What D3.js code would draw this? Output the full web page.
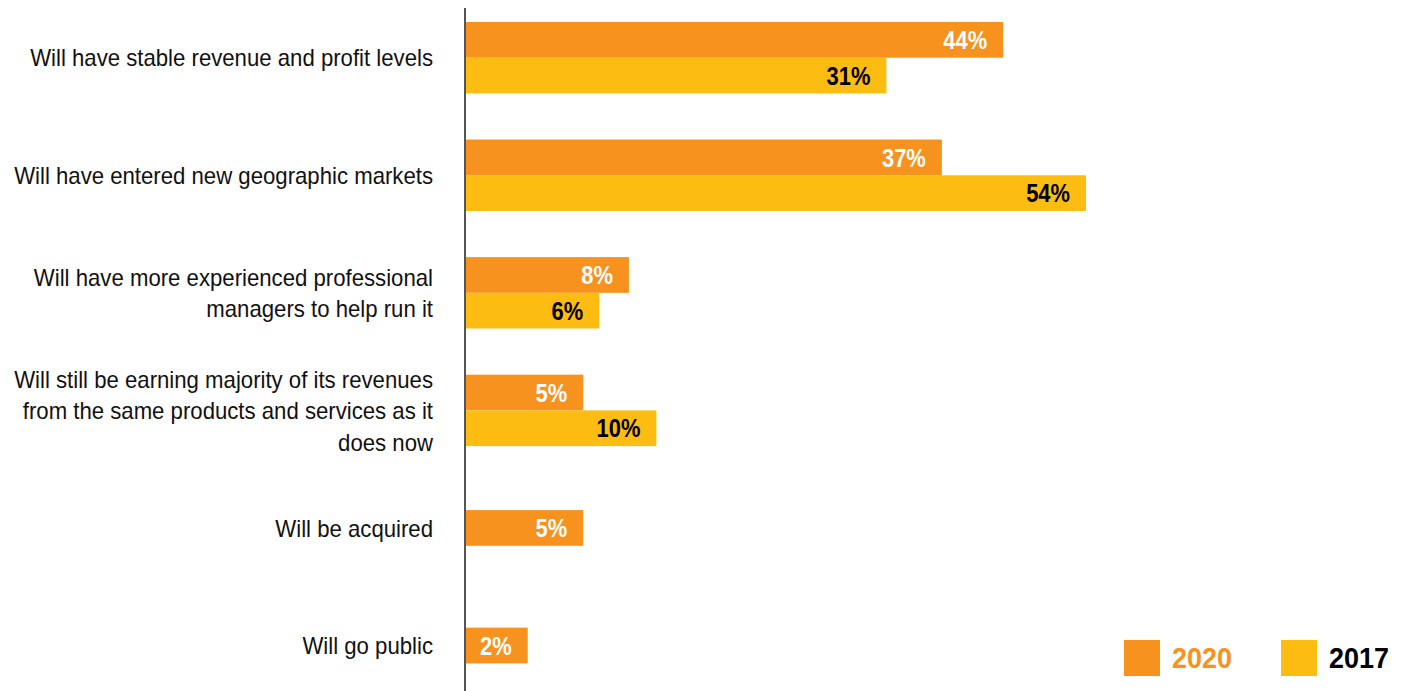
<!DOCTYPE html>
<html>
<head>
<meta charset="utf-8">
<script src="https://cdn.jsdelivr.net/npm/d3@7"></script>
<style>
  body { margin: 0; background: #fff; }
  svg { display: block; }
  text { font-family: "Liberation Sans", Arial, Helvetica, sans-serif; }
</style>
</head>
<body>
<svg id="chart" width="1410" height="691"></svg>
<script>
const categories = [
  "Will have stable revenue and profit levels",
  "Will have entered new geographic markets",
  "Will have more experienced professional\nmanagers to help run it",
  "Will still be earning majority of its revenues\nfrom the same products and services as it\ndoes now",
  "Will be acquired",
  "Will go public"
];
const values2020 = [44, 37, 8, 5, 5, 2];
const values2017 = [31, 54, 6, 10, null, null];
const seriesNames = ["2020", "2017"];

const ORANGE = "#F7921E";
const YELLOW = "#FDBC12";
const BAR_HEIGHT = 35.7;
const BAR_X = 466;

const svg = d3.select("#chart");

const y = d3.scalePoint()
  .domain(categories)
  .range([57.7, 645.5]);

// bar lengths in the original follow a compressed (non-linear) scale
const x = d3.scalePow()
  .exponent(0.7)
  .domain([0, 54])
  .range([BAR_X, BAR_X + 620]);

const bars = [];
categories.forEach((c, i) => {
  const cy = y(c);
  if (values2017[i] != null) {
    bars.push({ series: "2020", value: values2020[i], top: cy - BAR_HEIGHT });
    bars.push({ series: "2017", value: values2017[i], top: cy });
  } else {
    bars.push({ series: "2020", value: values2020[i], top: cy - BAR_HEIGHT / 2 });
  }
});

svg.selectAll("rect.bar")
  .data(bars)
  .enter()
  .append("rect")
  .attr("class", "bar")
  .attr("x", BAR_X)
  .attr("y", d => d.top)
  .attr("width", d => x(d.value) - BAR_X)
  .attr("height", BAR_HEIGHT)
  .attr("fill", d => d.series === "2020" ? ORANGE : YELLOW);

// condensed look: squeeze text horizontally
svg.selectAll("g.value")
  .data(bars)
  .enter()
  .append("g")
  .attr("class", "value")
  .attr("transform", d => `translate(${x(d.value) - 16}, ${d.top + BAR_HEIGHT / 2}) scale(0.86, 1)`)
  .append("text")
  .attr("dy", "0.36em")
  .attr("text-anchor", "end")
  .attr("font-size", "25.5px")
  .attr("font-weight", "bold")
  .attr("fill", d => d.series === "2020" ? "#fff" : "#000")
  .text(d => `${d.value}%`);

const LINE_H = 31.5;
svg.selectAll("g.cat")
  .data(categories)
  .enter()
  .append("g")
  .attr("class", "cat")
  .attr("transform", d => `translate(433, ${y(d)}) scale(0.924, 1)`)
  .append("text")
  .attr("text-anchor", "end")
  .attr("font-size", "24px")
  .attr("fill", "#111")
  .each(function(d) {
    const lines = d.split("\n");
    const t = d3.select(this);
    const start = -(lines.length - 1) * LINE_H / 2;
    lines.forEach((ln, k) => {
      t.append("tspan")
        .attr("x", 0)
        .attr("y", start + k * LINE_H)
        .attr("dy", "0.36em")
        .text(ln);
    });
  });

svg.append("line")
  .attr("x1", BAR_X - 1)
  .attr("x2", BAR_X - 1)
  .attr("y1", 8)
  .attr("y2", 691)
  .attr("stroke", "#555")
  .attr("stroke-width", 2);

// legend
const legendX = [1124, 1281];
const legendColors = [ORANGE, YELLOW];
const legendText = [ORANGE, "#000"];
const legend = svg.selectAll("g.legend")
  .data(seriesNames)
  .enter()
  .append("g")
  .attr("class", "legend")
  .attr("transform", (d, i) => `translate(${legendX[i]}, 640)`);

legend.append("rect")
  .attr("width", 36)
  .attr("height", 36)
  .attr("fill", (d, i) => legendColors[i]);

legend.append("g")
  .attr("transform", "translate(48, 18) scale(0.93, 1)")
  .append("text")
  .attr("dy", "0.36em")
  .attr("font-size", "29px")
  .attr("font-weight", "bold")
  .attr("fill", (d, i) => legendText[i])
  .text(d => d);
</script>
</body>
</html>
